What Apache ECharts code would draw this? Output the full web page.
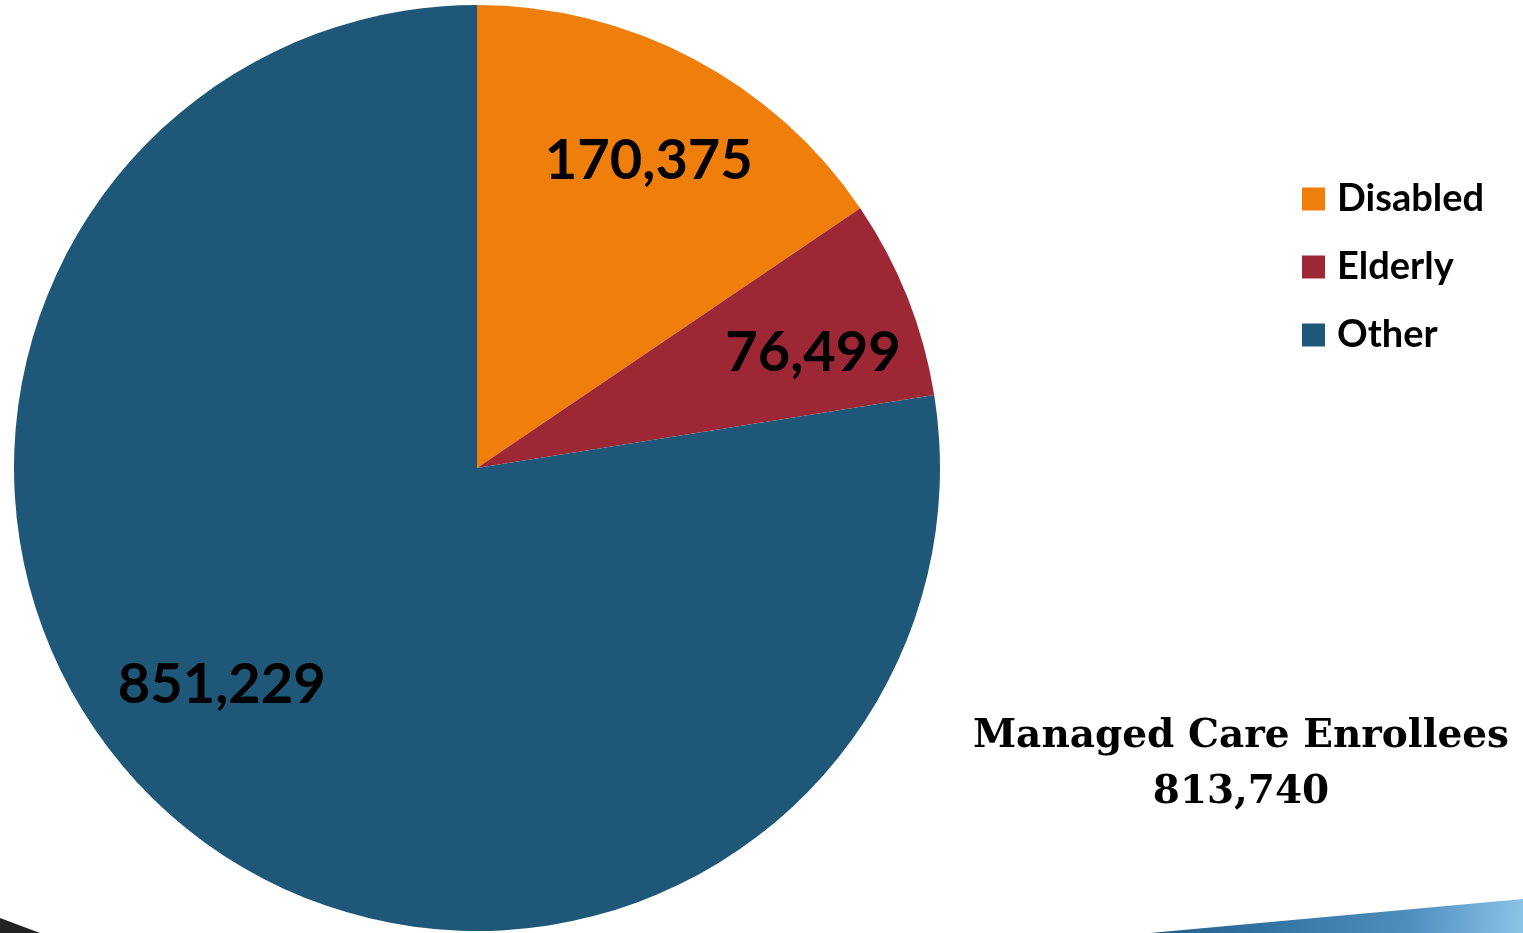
<!DOCTYPE html>
<html>
<head>
<meta charset="utf-8">
<script src="https://cdn.jsdelivr.net/npm/echarts@6/dist/echarts.min.js"></script>
<style>html,body{margin:0;padding:0;background:#fff}#c{width:1523px;height:933px}</style>
</head>
<body>
<div id="c"></div>
<script>
const categories = ['Disabled', 'Elderly', 'Other'];
const values = [170375, 76499, 851229];
const colors = ['#EF7F0A', '#9E2735', '#1F5779'];
const titleLines = ['Managed Care Enrollees', '813,740'];
const labelOffsets = [[62, -100], [118, -29], [-103, 39]];

const chart = echarts.init(document.getElementById('c'));
chart.setOption({
  animation: false,
  backgroundColor: '#ffffff',
  title: {
    text: titleLines.join('\n'),
    left: 1236, top: 704,
    textAlign: 'center',
    textStyle: { fontFamily: 'DejaVu Serif', fontWeight: 'bold', fontSize: 39, lineHeight: 56, color: '#000' }
  },
  legend: {
    orient: 'vertical', left: 1297, top: 174,
    itemWidth: 23, itemHeight: 23, itemGap: 28,
    icon: 'rect',
    data: categories,
    textStyle: { fontFamily: 'Lato', fontWeight: 'bold', fontSize: 38, lineHeight: 40, color: '#000', padding: [0, 0, 0, 7] }
  },
  graphic: [
    { type: 'polygon', shape: { points: [[0, 918], [0, 933], [40, 933]] }, style: { fill: '#222' } },
    { type: 'polygon', shape: { points: [[1150, 933], [1523, 899], [1523, 933]] },
      style: { fill: new echarts.graphic.LinearGradient(0, 0, 1, 1, [{ offset: 0, color: '#1F5E8A' }, { offset: 0.7, color: '#4F8FBF' }, { offset: 1, color: '#8CC4E8' }]) } }
  ],
  series: [{
    type: 'pie',
    center: [477, 468],
    radius: 463,
    startAngle: 90,
    clockwise: true,
    silent: true,
    labelLine: { show: false },
    label: {
      show: true, position: 'inside',
      fontFamily: 'Lato', fontWeight: 'bold', fontSize: 56, color: '#000',
      formatter: p => p.value.toLocaleString('en-US')
    },
    data: categories.map((n, i) => ({
      name: n, value: values[i],
      itemStyle: { color: colors[i] },
      label: { offset: labelOffsets[i] }
    }))
  }]
});
</script>
</body>
</html>
